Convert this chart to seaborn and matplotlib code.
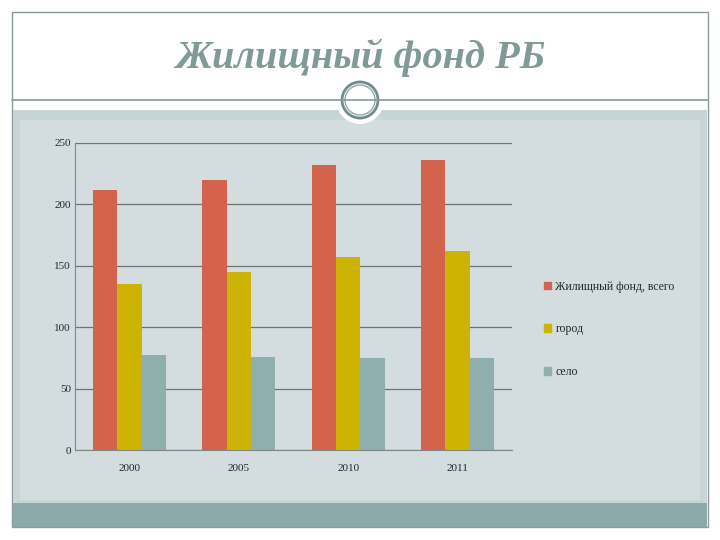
import pandas as pd
import matplotlib.pyplot as plt
import seaborn as sns
from matplotlib.patches import Rectangle, Circle

# данные
years = ['2000', '2005', '2010', '2011']
vsego = [212, 220, 232, 236]
gorod = [135, 145, 157, 162]
selo = [77, 76, 75, 75]
series_names = ['Жилищный фонд, всего', 'город', 'село']
colors = ['#D4634B', '#CDB404', '#8FAEAE']

df = pd.DataFrame({
    'year': years * 3,
    'value': vsego + gorod + selo,
    'series': [series_names[0]] * 4 + [series_names[1]] * 4 + [series_names[2]] * 4,
})

sns.set_style('white')
plt.rcParams['font.family'] = ['Liberation Serif', 'DejaVu Serif']

fig = plt.figure(figsize=(7.2, 5.4), dpi=100)
fig.patch.set_facecolor('white')

# фон слайда
bg = fig.add_axes([0, 0, 1, 1], zorder=0)
bg.set_xlim(0, 720)
bg.set_ylim(540, 0)
bg.axis('off')
bg.add_patch(Rectangle((12, 12), 696, 515, facecolor='white', edgecolor='#8A9A9A', lw=1))
bg.add_patch(Rectangle((13, 110), 694, 395, facecolor='#C6D4D6', edgecolor='none'))
bg.add_patch(Rectangle((20, 120), 680, 380, facecolor='#D3DDDF', edgecolor='none'))
bg.add_patch(Rectangle((13, 503), 694, 24, facecolor='#8CAAAA', edgecolor='none'))
bg.plot([12, 708], [100, 100], color='#8A9A9A', lw=1.2)
bg.add_patch(Circle((360, 100), 24, facecolor='white', edgecolor='none'))
bg.add_patch(Circle((360, 100), 18, facecolor='white', edgecolor='#6F8C8A', lw=2))
bg.add_patch(Circle((360, 100), 15, facecolor='none', edgecolor='#8FA9A7', lw=1))
bg.text(360, 58, 'Жилищный фонд РБ', ha='center', va='center', fontsize=29,
        fontweight='bold', fontstyle='italic', color='#809A98')

# диаграмма
ax = fig.add_axes([75 / 720, 90 / 540, 437 / 720, 307 / 540], zorder=1)
ax.set_facecolor('none')
sns.barplot(data=df, x='year', y='value', hue='series', palette=colors,
            width=0.67, saturation=1, linewidth=0, ax=ax, legend=False)

ax.set_ylim(0, 250)
ax.set_yticks(range(0, 251, 50))
ax.set_xlim(-0.5, 3.5)
ax.yaxis.grid(True, color='#6E7474', lw=0.9)
ax.set_axisbelow(True)
for s in ['top', 'right']:
    ax.spines[s].set_visible(False)
for s in ['left', 'bottom']:
    ax.spines[s].set_color('#7E8888')
ax.set_xticks([-0.5, 0.5, 1.5, 2.5, 3.5], minor=True)
ax.tick_params(axis='x', which='minor', length=3, color='#7E8888', direction='out')
ax.tick_params(axis='x', which='major', length=0, labelsize=8, pad=10)
ax.tick_params(axis='y', length=0, labelsize=8, pad=3)
ax.set_xlabel('')
ax.set_ylabel('')

handles = [Rectangle((0, 0), 1, 1, color=c) for c in colors]
fig.legend(handles, series_names, loc='upper left', bbox_to_anchor=(533 / 720, 1 - 270 / 540),
           frameon=False, fontsize=8.5, handlelength=0.6, handleheight=0.6,
           handletextpad=0.4, labelspacing=2.6)

fig.savefig('out.png', dpi=100)
